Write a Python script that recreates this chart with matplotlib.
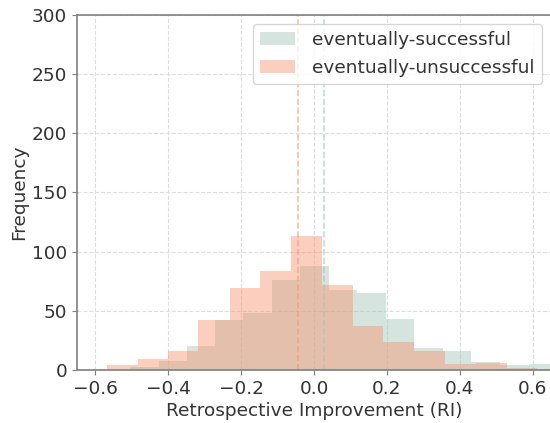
import numpy as np
import matplotlib.pyplot as plt

# bin edges and counts
succ_edges = [-0.505, -0.426, -0.348, -0.271, -0.196, -0.116, -0.038, 0.042,
              0.118, 0.196, 0.274, 0.354, 0.431, 0.511, 0.589, 0.668]
succ_counts = [3, 8, 20, 42, 48, 76, 88, 68, 65, 43, 19, 16, 7, 4, 5]

unsucc_edges = [-0.569, -0.483, -0.401, -0.317, -0.230, -0.148, -0.063, 0.021,
                0.108, 0.190, 0.274, 0.358, 0.445, 0.528, 0.612, 0.695]
unsucc_counts = [4, 9, 16, 42, 69, 84, 113, 72, 37, 24, 16, 5, 6, 2, 1]

succ_mean = 0.028
unsucc_mean = -0.043

green = '#a3c4b8'
orange = '#f7946f'
fs = 13.3

fig = plt.figure(figsize=(5.5, 4.23), dpi=100)
ax = fig.add_axes([0.14, 0.125, 0.862, 0.84])

e = np.array(succ_edges)
ax.hist((e[:-1] + e[1:]) / 2, bins=e, weights=succ_counts, color=green,
        alpha=0.45, label='eventually-successful')
e = np.array(unsucc_edges)
ax.hist((e[:-1] + e[1:]) / 2, bins=e, weights=unsucc_counts, color=orange,
        alpha=0.45, label='eventually-unsuccessful')

ax.axvline(succ_mean, color=green, ls='--', lw=1.2, alpha=0.6)
ax.axvline(unsucc_mean, color=orange, ls='--', lw=1.2, alpha=0.6)

ax.set_xlim(-0.65, 0.65)
ax.set_ylim(0, 300)
ax.set_xticks([-0.6, -0.4, -0.2, 0.0, 0.2, 0.4, 0.6])
ax.grid(True, ls='--', color='#dddddd', lw=0.8)
ax.set_axisbelow(True)

for s in ax.spines.values():
    s.set_color('#808080')
    s.set_linewidth(1.2)
ax.tick_params(colors='#333333', labelsize=fs, color='#808080')

ax.set_xlabel('Retrospective Improvement (RI)', fontsize=fs, color='#333333', labelpad=3)
ax.set_ylabel('Frequency', fontsize=fs, color='#333333', labelpad=3)
ax.legend(loc='upper right', fontsize=fs, labelcolor='#333333',
          borderaxespad=0.5, handlelength=1.9, handletextpad=0.9)

fig.savefig('out.png', dpi=100)
